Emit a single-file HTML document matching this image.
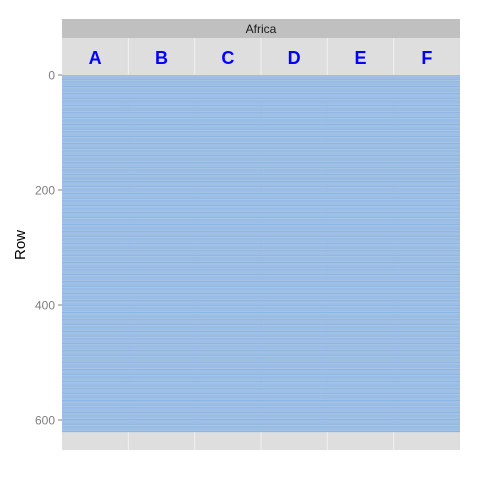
<!DOCTYPE html>
<html><head><meta charset="utf-8"><style>
body{margin:0;background:#fff;font-family:"Liberation Sans",sans-serif}
</style></head><body>
<svg id="chart" width="480" height="480" viewBox="0 0 480 480" xmlns="http://www.w3.org/2000/svg">
<rect x="62" y="19" width="398" height="19" fill="#c0c0c0"/>
<text x="261" y="33" font-size="12" text-anchor="middle" fill="#1a1a1a">Africa</text>
<rect x="62" y="38" width="398" height="412" fill="#dedede"/>
<g id="grid"></g>
<g id="rows"></g>
<g id="cols"></g>
<g id="yaxis"></g>
<text transform="translate(25,245) rotate(-90)" font-size="15" text-anchor="middle" fill="#000">Row</text>
</svg>
<script>
const columns = ["A","B","C","D","E","F"];
const yTicks = [0,200,400,600];
const rowCount = 621;
const rowValues = [];
for (let i = 0; i < rowCount; i++) rowValues.push(i % 3 === 0 ? 1 : 0);

const ns = "http://www.w3.org/2000/svg";
const px0 = 62, px1 = 460, y0 = 75, k = 0.575;
const yScale = v => y0 + v * k;
const colW = (px1 - px0) / columns.length;
const xScale = i => px0 + i * colW;
function mk(tag, attrs, parent){const e=document.createElementNS(ns,tag);for(const a in attrs)e.setAttribute(a,attrs[a]);document.getElementById(parent).appendChild(e);return e;}

for (let i = 1; i < columns.length; i++) {
  const l = mk("line",{x1:xScale(i),x2:xScale(i),y1:38,y2:450,stroke:"#f0f0f0","stroke-width":1},"grid");
  
  
}
rowValues.forEach((v, i) => {
  const r = mk("rect",{x:px0,y:yScale(i),width:px1-px0,height:k+0.05,fill:v?"#a3c4ea":"#8db6e3"},"rows");
  
  
});
for (let i = 1; i < columns.length; i++) {
  const l = mk("line",{x1:xScale(i),x2:xScale(i),y1:75,y2:yScale(rowCount),stroke:"#a5c4e8","stroke-width":1,opacity:0.6},"grid");
  
  
}
columns.forEach((c, i) => {
  const t = mk("text",{x:xScale(i)+colW/2,y:64,"font-size":18,"font-weight":"bold","text-anchor":"middle",fill:"#0000ff"},"cols");
  t.textContent = c;
  
  
});
yTicks.forEach(v => {
  const y = yScale(v);
  const l = mk("line",{x1:58,x2:62,y1:y,y2:y,stroke:"#7f7f7f","stroke-width":1},"yaxis");
  
  
  const t = mk("text",{x:55,y:y+4.5,"font-size":12,"text-anchor":"end",fill:"#7f7f7f"},"yaxis");
  t.textContent = v;
  
  
});
</script>
</body></html>
